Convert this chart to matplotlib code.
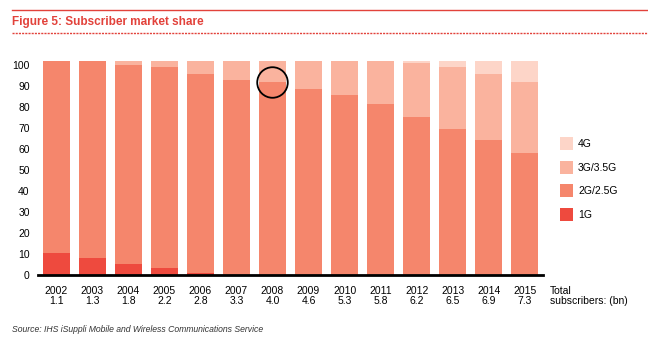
import matplotlib.pyplot as plt
import numpy as np

plt.rcParams['font.family'] = ['Liberation Sans', 'DejaVu Sans']

years = ['2002', '2003', '2004', '2005', '2006', '2007', '2008',
         '2009', '2010', '2011', '2012', '2013', '2014', '2015']
subscribers = ['1.1', '1.3', '1.8', '2.2', '2.8', '3.3', '4.0',
               '4.6', '5.3', '5.8', '6.2', '6.5', '6.9', '7.3']

# shares (axis units)
g1 = [10.6, 8.1, 5.4, 3.3, 1.1, 0.2, 0.1, 0, 0, 0, 0, 0, 0, 0]
g2 = [91.4, 93.9, 94.6, 95.7, 94.6, 92.7, 92.0, 88.6, 85.9, 81.4, 75.2, 69.5, 64.4, 58.1]
g3 = [0, 0, 2.0, 3.0, 6.3, 9.1, 9.9, 13.4, 16.1, 20.6, 25.9, 29.5, 31.3, 33.8]
g4 = [0, 0, 0, 0, 0, 0, 0, 0, 0, 0, 0.9, 3.0, 6.3, 10.1]

labels = ['1G', '2G/2.5G', '3G/3.5G', '4G']
colors = ['#ee4a3e', '#f5866c', '#fab39e', '#fdd5c8']
red = '#e2423b'

fig = plt.figure(figsize=(6.48, 3.42), dpi=100)
ax = fig.add_axes([38 / 648, 67 / 342, 505 / 648, 214 / 342])

x = np.arange(len(years))
bottom = np.zeros(len(years))
for vals, lab, col in zip([g1, g2, g3, g4], labels, colors):
    ax.bar(x, vals, width=0.75, bottom=bottom, color=col, label=lab, linewidth=0)
    bottom += np.array(vals)

# highlight circle on 2008
ax.plot(6, g1[6] + g2[6], marker='o', markersize=22, markerfacecolor='none',
        markeredgecolor='black', markeredgewidth=1.3, clip_on=False)

ax.set_xlim(-0.5, 13.5)
ax.set_ylim(0, 102)
ax.set_yticks(range(0, 101, 10))
ax.tick_params(axis='y', length=0, labelsize=7.5, pad=6)
ax.set_xticks(x)
ax.set_xticklabels([f'{y}\n{s}' for y, s in zip(years, subscribers)], linespacing=0.95)
ax.tick_params(axis='x', length=0, labelsize=7.5, pad=8)
for s in ['top', 'right', 'left']:
    ax.spines[s].set_visible(False)
ax.spines['bottom'].set_linewidth(2)
ax.spines['bottom'].set_color('black')

fig.text(550 / 648, 1 - 296 / 342, 'Total\nsubscribers: (bn)', fontsize=7.5,
         va='center', ha='left', linespacing=0.95)

# legend
handles, labs = ax.get_legend_handles_labels()
fig.legend(handles[::-1], labs[::-1], loc='center left',
           bbox_to_anchor=(551 / 648, 1 - 179 / 342), frameon=False,
           fontsize=7.5, handlelength=1.25, handleheight=1.5, labelspacing=1.05,
           handletextpad=0.45)

# header
fig.add_artist(plt.Line2D([12 / 648, 1], [1 - 10 / 342] * 2, color=red, lw=1))
fig.text(12 / 648, 1 - 22 / 342, 'Figure 5: Subscriber market share', color=red,
         fontsize=8.5, fontweight='bold', va='center', ha='left')
fig.add_artist(plt.Line2D([12 / 648, 1], [1 - 33 / 342] * 2, color=red, lw=1,
                          linestyle=(0, (1.5, 0.8))))

fig.text(12 / 648, 1 - 330 / 342,
         'Source: IHS iSuppli Mobile and Wireless Communications Service',
         fontsize=6.2, style='italic', color='#333333', va='center', ha='left')

fig.savefig('out.png', dpi=100)
